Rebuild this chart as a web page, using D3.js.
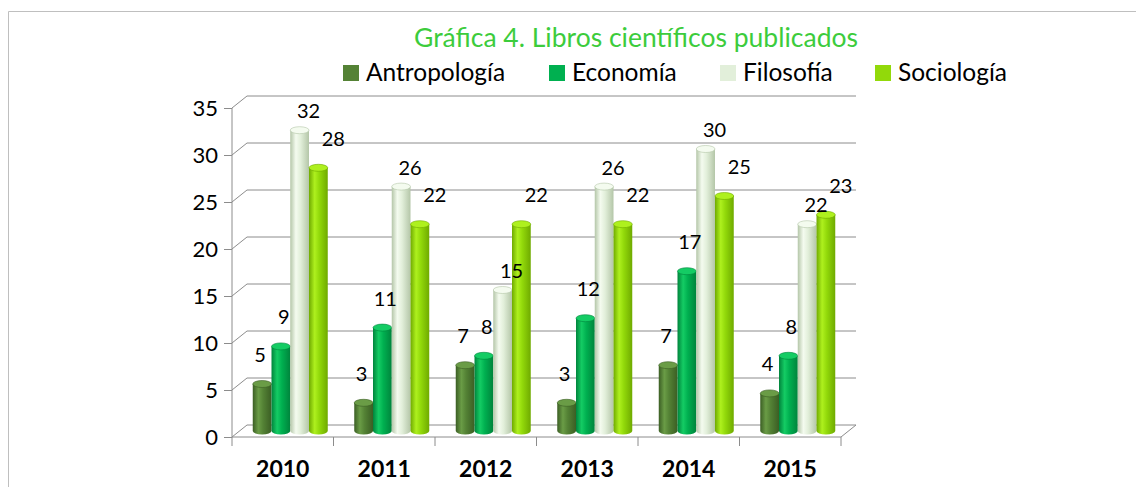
<!DOCTYPE html>
<html>
<head>
<meta charset="utf-8">
<script src="https://cdn.jsdelivr.net/npm/d3@7"></script>
<style>
  body { margin: 0; background: #fff; }
  svg { display: block; font-family: Lato, "Open Sans", sans-serif; }
</style>
</head>
<body>
<svg id="chart"></svg>
<script>
// data
const years = ["2010", "2011", "2012", "2013", "2014", "2015"];
const seriesNames = ["Antropología", "Economía", "Filosofía", "Sociología"];
const antropologia = [5, 3, 7, 3, 7, 4];
const economia = [9, 11, 8, 12, 17, 8];
const filosofia = [32, 26, 15, 26, 30, 22];
const sociologia = [28, 22, 22, 22, 25, 23];
const yTicks = [0, 5, 10, 15, 20, 25, 30, 35];

const values = [antropologia, economia, filosofia, sociologia];
const colors = ["#548235", "#00b050", "#e2efda", "#92d90a"];
const darks = ["#3b5e24", "#00843c", "#b4c6a8", "#6faa00"];
const lights = ["#6a9c46", "#14cc64", "#f4fbef", "#aef01e"];

const W = 1136, H = 487;
const svg = d3.select("#chart").attr("width", W).attr("height", H);

// outer frame
svg.append("path")
  .attr("d", "M8.5," + H + "V11.5H" + W)
  .attr("fill", "none").attr("stroke", "#bfbfbf");

// 3d offsets (back wall / bars at mid depth)
const depth = { dx: 15, dy: -12 };
const mid = { dx: 7.5, dy: -6 };

const x = d3.scaleBand().domain(years).range([232, 841]);
const y = d3.scaleLinear().domain([0, 35]).range([437, 108]);
const x1 = d3.scaleBand().domain(seriesNames).range([0, 75]);
const inset = (x.bandwidth() - 75) / 2;

// gradients for cylinders
const defs = svg.append("defs");
seriesNames.forEach((s, i) => {
  const g = defs.append("linearGradient").attr("id", "g" + i)
    .attr("x1", 0).attr("x2", 1).attr("y1", 0).attr("y2", 0);
  g.append("stop").attr("offset", "0%").attr("stop-color", darks[i]);
  g.append("stop").attr("offset", "30%").attr("stop-color", lights[i]);
  g.append("stop").attr("offset", "55%").attr("stop-color", colors[i]);
  g.append("stop").attr("offset", "100%").attr("stop-color", darks[i]);
});

// walls and gridlines
const grid = svg.append("g").attr("stroke", "#8c8c8c").attr("fill", "none");
yTicks.forEach(t => {
  const yf = y(t);
  grid.append("path")
    .attr("d", "M232," + yf + "L" + (232 + depth.dx) + "," + (yf + depth.dy) + "H" + (841 + depth.dx));
});
grid.append("path").attr("d", "M232," + y(35) + "V" + y(0) + "H841l" + depth.dx + "," + depth.dy);

// y axis ticks and labels
const yAxis = svg.append("g").attr("transform", "translate(232,0)")
  .call(d3.axisLeft(y).tickValues(yTicks).tickSize(8).tickPadding(6));
yAxis.select(".domain").remove();
yAxis.selectAll("line").attr("stroke", "#8c8c8c");
yAxis.selectAll("text").attr("font-size", 22).attr("fill", "#000")
  .attr("font-family", "Lato, sans-serif");

// x axis
const xAxis = svg.append("g").attr("transform", "translate(0,437)")
  .call(d3.axisBottom(x).tickSize(0).tickPadding(24));
xAxis.select(".domain").remove();
xAxis.selectAll("text").attr("font-size", 23).attr("font-weight", "bold")
  .attr("fill", "#000").attr("font-family", "Lato, sans-serif");
svg.append("g").selectAll("line")
  .data(d3.range(years.length + 1))
  .join("line")
  .attr("x1", i => 232 + i * x.bandwidth()).attr("x2", i => 232 + i * x.bandwidth())
  .attr("y1", 437).attr("y2", 446)
  .attr("stroke", "#8c8c8c");

// bars as cylinders
const bw = x1.bandwidth();
const ry = 3.5;
const bars = [];
years.forEach((yr, j) => {
  seriesNames.forEach((s, i) => {
    bars.push({ yr, s, i, v: values[i][j] });
  });
});
const barG = svg.append("g").selectAll("g").data(bars).join("g")
  .attr("transform", d => "translate(" + (x(d.yr) + inset + x1(d.s) + mid.dx) + "," + mid.dy + ")");
barG.append("path")
  .attr("d", d => {
    const top = y(d.v), base = y(0);
    return "M0," + top + "V" + base +
      "A" + bw / 2 + "," + ry + " 0 0 0 " + bw + "," + base +
      "V" + top + "Z";
  })
  .attr("fill", d => "url(#g" + d.i + ")");
barG.append("ellipse")
  .attr("cx", bw / 2).attr("cy", d => y(d.v)).attr("rx", bw / 2).attr("ry", ry)
  .attr("fill", d => lights[d.i]).attr("stroke", d => darks[d.i]).attr("stroke-width", 0.6);

// value labels
const labelDx = [-2, 3, 9, 15];
const labelDy = [0, 0, 10, 0];
svg.append("g").selectAll("text").data(bars).join("text")
  .attr("x", d => x(d.yr) + inset + x1(d.s) + mid.dx + bw / 2 + labelDx[d.i])
  .attr("y", d => y(d.v) + mid.dy - 22 + labelDy[d.i])
  .attr("text-anchor", "middle")
  .attr("font-size", 20)
  .attr("fill", "#000")
  .text(d => d.v);

// title
svg.append("text")
  .attr("x", 636).attr("y", 47)
  .attr("text-anchor", "middle")
  .attr("font-size", 26.5)
  .attr("fill", "#3ccc3c")
  .text("Gráfica 4. Libros científicos publicados");

// legend
const legendX = [343, 549, 720, 875];
const leg = svg.append("g").selectAll("g").data(seriesNames).join("g")
  .attr("transform", (d, i) => "translate(" + legendX[i] + ",65)");
leg.append("rect").attr("width", 16).attr("height", 16).attr("fill", (d, i) => colors[i]);
leg.append("text").attr("x", 23).attr("y", 16).attr("font-size", 24.5).attr("fill", "#000").text(d => d);
</script>
</body>
</html>
